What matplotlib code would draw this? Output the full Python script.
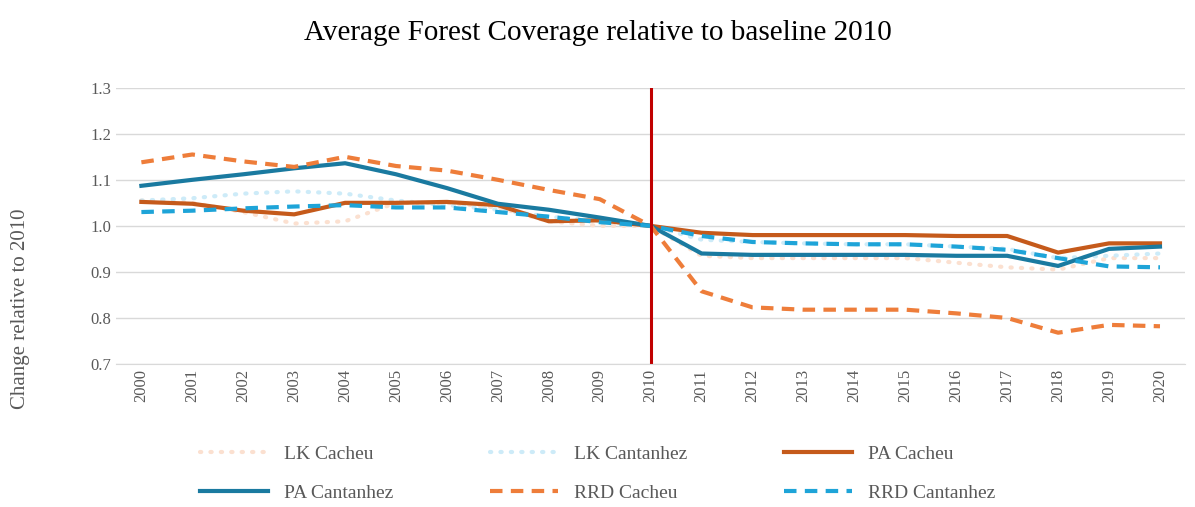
import matplotlib
matplotlib.use("Agg")
import matplotlib.pyplot as plt

years = list(range(2000, 2021))
lk_cacheu = [1.055,1.05,1.03,1.005,1.01,1.05,1.05,1.04,1.01,1.0,1.0,0.935,0.93,0.93,0.93,0.93,0.92,0.91,0.905,0.93,0.93]
lk_cantanhez = [1.055,1.06,1.07,1.075,1.07,1.055,1.045,1.035,1.02,1.01,1.0,0.97,0.965,0.962,0.96,0.96,0.955,0.95,0.93,0.935,0.94]
pa_cacheu = [1.052,1.048,1.033,1.025,1.05,1.05,1.052,1.045,1.01,1.012,1.0,0.985,0.98,0.98,0.98,0.98,0.978,0.978,0.942,0.962,0.962]
pa_cantanhez = [1.087,1.1,1.112,1.125,1.136,1.112,1.082,1.048,1.035,1.018,1.0,0.94,0.937,0.937,0.937,0.937,0.935,0.935,0.913,0.95,0.955]
rrd_cacheu = [1.138,1.155,1.14,1.128,1.15,1.13,1.12,1.1,1.078,1.058,1.0,0.858,0.823,0.818,0.818,0.818,0.81,0.8,0.768,0.785,0.782]
rrd_cantanhez = [1.03,1.033,1.038,1.042,1.045,1.04,1.04,1.03,1.02,1.008,1.0,0.978,0.965,0.962,0.96,0.96,0.955,0.948,0.93,0.912,0.91]

plt.rcParams['font.family'] = ['Liberation Serif', 'DejaVu Serif']
fig = plt.figure(figsize=(11.95, 5.07), dpi=100)
ax = fig.add_axes([0.097, 0.282, 0.895, 0.545])
x = years
h = {}
h['LK Cacheu'], = ax.plot(x, lk_cacheu, color='#fbe0d0', lw=3, ls=(0, (0.3, 2.2)), dash_capstyle='round', label='LK Cacheu')
h['LK Cantanhez'], = ax.plot(x, lk_cantanhez, color='#cdebf8', lw=3, ls=(0, (0.3, 2.2)), dash_capstyle='round', label='LK Cantanhez')
h['PA Cacheu'], = ax.plot(x, pa_cacheu, color='#c55a1b', lw=3, label='PA Cacheu')
h['PA Cantanhez'], = ax.plot(x, pa_cantanhez, color='#1a7aa0', lw=3, label='PA Cantanhez')
h['RRD Cacheu'], = ax.plot(x, rrd_cacheu, color='#ee7d3a', lw=3, ls=(0, (3, 2)), label='RRD Cacheu')
h['RRD Cantanhez'], = ax.plot(x, rrd_cantanhez, color='#1ea4d8', lw=3, ls=(0, (3, 2)), label='RRD Cantanhez')
ax.axvline(2010, color='#c00000', lw=2.2)
ax.set_ylim(0.7, 1.3)
ax.set_xlim(1999.5, 2020.5)
ax.set_yticks([0.7,0.8,0.9,1.0,1.1,1.2,1.3])
ax.set_yticklabels([f'{v:.1f}' for v in [0.7,0.8,0.9,1.0,1.1,1.2,1.3]])
ax.set_xticks(years)
ax.set_xticklabels([str(y) for y in years], rotation=90)
ax.tick_params(length=0, labelsize=12, colors='#595959')
ax.grid(axis='y', color='#d9d9d9', lw=1)
ax.set_axisbelow(True)
for s in ['top','right','left']:
    ax.spines[s].set_visible(False)
ax.spines['bottom'].set_color('#d9d9d9')
ax.set_ylabel('Change relative to 2010', fontsize=15, color='#595959')
ax.yaxis.set_label_coords(-0.08, 0.2)
fig.suptitle('Average Forest Coverage relative to baseline 2010', fontsize=21, y=0.96)
order = ['LK Cacheu', 'PA Cantanhez', 'LK Cantanhez', 'RRD Cacheu', 'PA Cacheu', 'RRD Cantanhez']
fig.legend([h[k] for k in order], order, loc='lower center', bbox_to_anchor=(0.5, -0.025), ncol=3, frameon=False,
           fontsize=14, labelcolor='#595959', columnspacing=5, handlelength=3.5, labelspacing=1.1)
fig.savefig('out.png')
